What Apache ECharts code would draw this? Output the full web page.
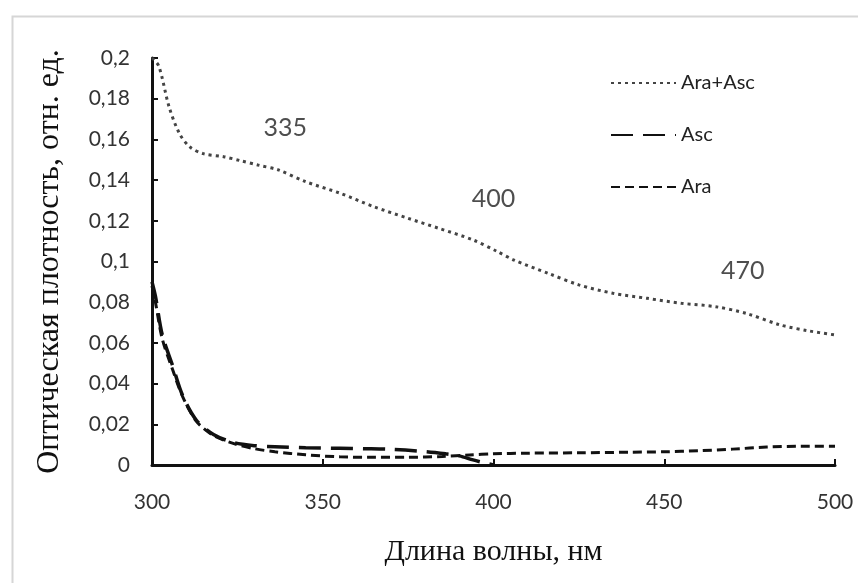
<!DOCTYPE html>
<html>
<head>
<meta charset="utf-8">
<script src="https://cdn.jsdelivr.net/npm/echarts@6/dist/echarts.min.js"></script>
<style>
  html, body { margin: 0; padding: 0; background: #fff; }
  #chart { width: 858px; height: 583px; }
</style>
</head>
<body>
<div id="chart"></div>
<script>
// wavelength (nm) / optical density
const mixX = [300, 302, 305, 308, 311, 315, 321, 326, 331, 337, 345, 355, 365, 375, 384, 394, 401, 406, 416, 425, 435, 445, 455, 465, 474, 484, 492, 500];
const mixY = [0.2, 0.196, 0.176, 0.163, 0.1564, 0.153, 0.1515, 0.1495, 0.1474, 0.145, 0.1392, 0.1336, 0.1269, 0.1212, 0.1163, 0.1106, 0.105, 0.1007, 0.0942, 0.0885, 0.0844, 0.0819, 0.0795, 0.0778, 0.0745, 0.0688, 0.066, 0.0639];

const ascX = [300, 301, 303, 306, 309, 313, 318, 324, 330, 336, 345, 355, 362, 370, 380, 386, 390, 394, 397, 400];
const ascY = [0.09, 0.083, 0.064, 0.049, 0.034, 0.022, 0.015, 0.011, 0.0095, 0.009, 0.0085, 0.0082, 0.008, 0.0077, 0.0066, 0.0055, 0.0045, 0.0025, 0.0012, 0];

const araX = [300, 301, 303, 306, 309, 313, 318, 324, 330, 336, 345, 355, 365, 375, 385, 393, 400, 410, 425, 440, 450, 460, 470, 480, 490, 500];
const araY = [0.088, 0.08, 0.062, 0.047, 0.0335, 0.0215, 0.0145, 0.0105, 0.008, 0.0065, 0.005, 0.004, 0.0038, 0.0038, 0.0042, 0.0049, 0.0055, 0.0058, 0.006, 0.0063, 0.0065, 0.007, 0.0078, 0.0088, 0.0092, 0.0092];

const peakText = ["335", "400", "470"];
const peakX = [339, 400, 473];
const peakY = [0.1656, 0.1307, 0.0953];

const seriesNames = ["Ara+Asc", "Asc", "Ara"];
const xTicks = [300, 350, 400, 450, 500];

const pairs = (xs, ys) => xs.map((x, i) => [x, ys[i]]);

const chart = echarts.init(document.getElementById("chart"));

chart.setOption({
  animation: false,
  backgroundColor: "#fff",
  graphic: [
    {
      type: "rect",
      left: 10,
      top: 14,
      shape: { width: 870, height: 600 },
      style: { fill: "none", stroke: "#d6d6d6", lineWidth: 2 },
      silent: true,
      z: 0,
    },
  ],
  grid: { left: 152, right: 23, top: 58, bottom: 118, containLabel: false },
  legend: {
    data: seriesNames,
    orient: "vertical",
    left: 605,
    top: 68,
    itemWidth: 65,
    itemHeight: 20,
    itemGap: 32,
    itemStyle: { opacity: 0 },
    textStyle: { fontFamily: "Lato", fontSize: 20, color: "#222" },
  },
  xAxis: {
    type: "value",
    min: xTicks[0],
    max: xTicks[xTicks.length - 1],
    interval: 50,
    name: "Длина волны, нм",
    nameLocation: "middle",
    nameGap: 72,
    nameTextStyle: { fontFamily: "Liberation Serif", fontSize: 30, color: "#111" },
    axisLine: { lineStyle: { color: "#111", width: 3 } },
    axisTick: { inside: true, length: 6, lineStyle: { color: "#111", width: 2 } },
    axisLabel: { margin: 27, fontFamily: "Lato", fontSize: 21, color: "#333" },
    splitLine: { show: false },
  },
  yAxis: {
    type: "value",
    min: 0,
    max: 0.2,
    interval: 0.02,
    name: "Оптическая плотность, отн. ед.",
    nameLocation: "middle",
    nameGap: 86,
    nameTextStyle: { fontFamily: "Liberation Serif", fontSize: 32, color: "#111" },
    axisLine: { show: true, lineStyle: { color: "#111", width: 3 } },
    axisTick: { show: true, inside: true, length: 6, lineStyle: { color: "#111", width: 2 } },
    axisLabel: {
      margin: 22,
      fontFamily: "Lato",
      fontSize: 21,
      color: "#333",
      formatter: (v) => String(parseFloat(v.toFixed(2))).replace(".", ","),
    },
    splitLine: { show: false },
  },
  series: [
    {
      name: seriesNames[0],
      type: "line",
      smooth: 0.3,
      symbol: "none",
      data: pairs(mixX, mixY),
      lineStyle: { color: "#444", width: 3, type: [3, 4] },
      itemStyle: { color: "#444" },
      z: 3,
    },
    {
      name: seriesNames[1],
      type: "line",
      smooth: 0.3,
      symbol: "none",
      data: pairs(ascX, ascY),
      lineStyle: { color: "#111", width: 3.5, type: [22, 10] },
      itemStyle: { color: "#111" },
      z: 3,
    },
    {
      name: seriesNames[2],
      type: "line",
      smooth: 0.3,
      symbol: "none",
      data: pairs(araX, araY),
      lineStyle: { color: "#111", width: 3, type: [9, 5] },
      itemStyle: { color: "#111" },
      z: 3,
    },
    {
      name: "peaks",
      type: "scatter",
      silent: true,
      symbolSize: 1,
      itemStyle: { color: "rgba(0,0,0,0)" },
      label: {
        show: true,
        position: "inside",
        formatter: (p) => p.name,
        fontFamily: "Lato",
        fontSize: 25,
        color: "#222",
      },
      data: peakText.map((t, i) => ({ name: t, value: [peakX[i], peakY[i]] })),
    },
  ],
});
</script>
</body>
</html>
